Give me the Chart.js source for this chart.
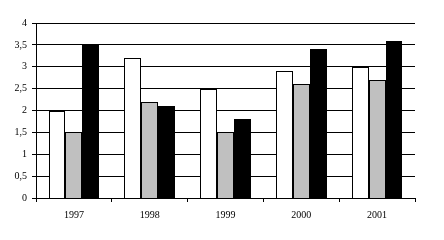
<!DOCTYPE html>
<html>
<head>
<meta charset="utf-8">
<script src="https://cdn.jsdelivr.net/npm/chart.js@4/dist/chart.umd.min.js"></script>
<style>
  html, body { margin: 0; padding: 0; background: #fff; }
  #wrap { width: 444px; height: 240px; }
</style>
</head>
<body>
<div id="wrap"><canvas id="grafico" width="444" height="240"></canvas></div>
<script>
// Dados
const anos = ['1997', '1998', '1999', '2000', '2001'];
const serieBranca = [2, 3.2, 2.5, 2.9, 3];
const serieCinza = [1.5, 2.2, 1.5, 2.6, 2.7];
const seriePreta = [3.5, 2.1, 1.8, 3.4, 3.6];

const fonte = { family: "'Liberation Serif', 'Times New Roman', serif", size: 10 };

// alinhar as barras aos pixels para bordas nítidas
const alinharBarras = {
  id: 'alinharBarras',
  afterDatasetsUpdate(chart) {
    chart.data.datasets.forEach((ds, i) => {
      chart.getDatasetMeta(i).data.forEach(el => {
        const esq = Math.round(el.x - el.width / 2);
        const dir = Math.round(el.x + el.width / 2);
        el.width = dir - esq;
        el.x = esq + el.width / 2;
        el.y = Math.round(el.y);
        el.base = Math.round(el.base);
      });
    });
  }
};

const ctx = document.getElementById('grafico').getContext('2d');
new Chart(ctx, {
  type: 'bar',
  plugins: [alinharBarras],
  data: {
    labels: anos,
    datasets: [
      { data: serieBranca, backgroundColor: '#ffffff', borderColor: '#000000', borderWidth: 1, inflateAmount: 0 },
      { data: serieCinza, backgroundColor: '#c0c0c0', borderColor: '#000000', borderWidth: 1, inflateAmount: 0 },
      { data: seriePreta, backgroundColor: '#000000', borderColor: '#000000', borderWidth: 1, inflateAmount: 0 }
    ]
  },
  options: {
    responsive: false,
    animation: false,
    devicePixelRatio: 1,
    layout: { padding: { top: 23, right: 29, left: 0, bottom: 0 } },
    datasets: { bar: { categoryPercentage: 0.667, barPercentage: 1 } },
    plugins: { legend: { display: false }, tooltip: { enabled: false } },
    scales: {
      x: {
        afterFit: s => { s.height = 42; },
        grid: { drawOnChartArea: false, drawTicks: true, tickLength: 4, color: '#000', offset: true },
        border: { color: '#000', width: 1 },
        ticks: { color: '#000', font: fonte, padding: 7, maxRotation: 0 }
      },
      y: {
        min: 0,
        max: 4,
        afterFit: s => { s.width = 36; },
        grid: { color: '#000', tickLength: 4, lineWidth: 1 },
        border: { color: '#000', width: 1 },
        ticks: {
          stepSize: 0.5,
          color: '#000',
          font: fonte,
          padding: 5,
          callback: v => v.toString().replace('.', ',')
        }
      }
    }
  }
});
</script>
</body>
</html>
